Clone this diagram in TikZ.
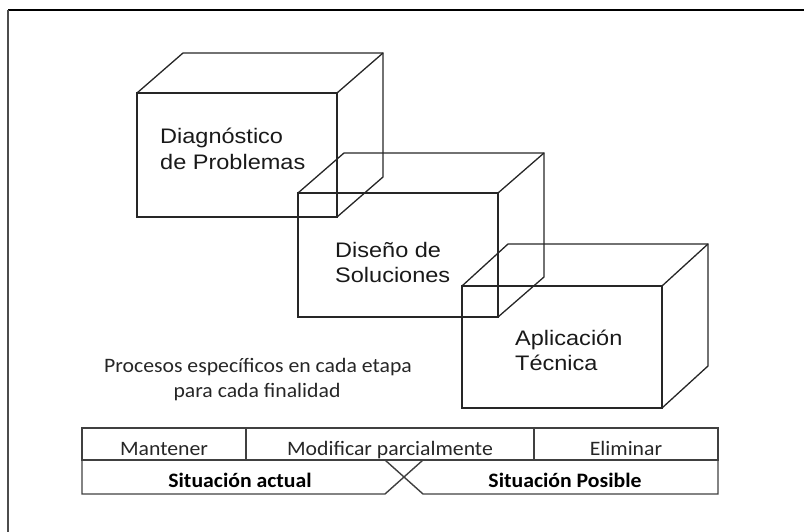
\documentclass[tikz,border=0pt]{standalone}
\usepackage{fontspec}
\newfontfamily\arialf[FakeStretch=1.12]{Liberation Sans}
\newfontfamily\calf[FakeStretch=1.06]{Carlito}
\begin{document}
\begin{tikzpicture}[x=1pt,y=-1pt,
  cubeline/.style={draw=black!85, line width=1.3pt, line join=miter},
  cubefront/.style={cubeline, minimum width=200pt, minimum height=124pt, anchor=north west, inner sep=0pt, outer sep=0pt},
  lab/.style={font=\arialf\fontsize{21}{25}\selectfont, text=black!90, anchor=base west, inner sep=0pt},
  ctext/.style={font=\calf\fontsize{20.5}{26}\selectfont, text=black!85, anchor=base, inner sep=0pt},
  btext/.style={font=\calf\bfseries\fontsize{20.5}{26}\selectfont, anchor=base, inner sep=0pt},
  tab/.style={draw=black!75, line width=1.4pt},
  cell/.style={tab, minimum height=32pt, anchor=north west, inner sep=0pt, outer sep=0pt}]
\useasboundingbox (0,0) rectangle (804,532);
% frame
\coordinate (f1) at (8,10);
\coordinate (f2) at (804,10);
\coordinate (f3) at (8,532);
\draw[black, line width=1.4pt] (f1) -- (f2);
\draw[black!70, line width=1.4pt] (f1) -- (f3);
% cube 1
\node[cubefront] (b1) at (137,93) {};
\draw[cubeline] (b1.north west) -- ++(46,-40) -- ++(200,0) -- ++(0,124) -- (b1.south east);
\draw[cubeline] (b1.north east) -- ++(46,-40);
% cube 2
\node[cubefront] (b2) at (298,193) {};
\draw[cubeline] (b2.north west) -- ++(46,-40) -- ++(200,0) -- ++(0,124) -- (b2.south east);
\draw[cubeline] (b2.north east) -- ++(46,-40);
% cube 3
\node[cubefront, minimum height=122pt] (b3) at (462,286) {};
\draw[cubeline] (b3.north west) -- ++(46,-42) -- ++(200,0) -- ++(0,122) -- (b3.south east);
\draw[cubeline] (b3.north east) -- ++(46,-42);
% labels
\node[lab] (t1a) at (160,144) {Diagnóstico};
\node[lab] (t1b) at (160,170) {de Problemas};
\node[lab] (t2a) at (335,258) {Diseño de};
\node[lab] (t2b) at (335,283) {Soluciones};
\node[lab] (t3a) at (515,345) {Aplicación};
\node[lab] (t3b) at (515,370) {Técnica};
\node[ctext] (p1) at (258,372) {Procesos específicos en cada etapa};
\node[ctext] (p2) at (257,397) {para cada finalidad};
% table top row
\node[cell, minimum width=164pt] (c1) at (82,428) {};
\node[cell, minimum width=288pt] (c2) at (246,428) {};
\node[cell, minimum width=184pt] (c3) at (534,428) {};
\node[ctext] (m1) at (164,455) {Mantener};
\node[ctext] (m2) at (390,455) {Modificar parcialmente};
\node[ctext] (m3) at (626,455) {Eliminar};
% bottom row
\coordinate (xa) at (385,460);
\coordinate (xb) at (423,460);
\coordinate (xc) at (385,494);
\coordinate (xd) at (423,494);
\draw[tab] (c1.south west) -- (82,494) -- (xc) -- (xb);
\draw[tab] (xa) -- (xd) -- (718,494) -- (c3.south east);
\node[btext] (s1) at (240,487) {Situación actual};
\node[btext] (s2) at (565,487) {Situación Posible};
\end{tikzpicture}
\end{document}
